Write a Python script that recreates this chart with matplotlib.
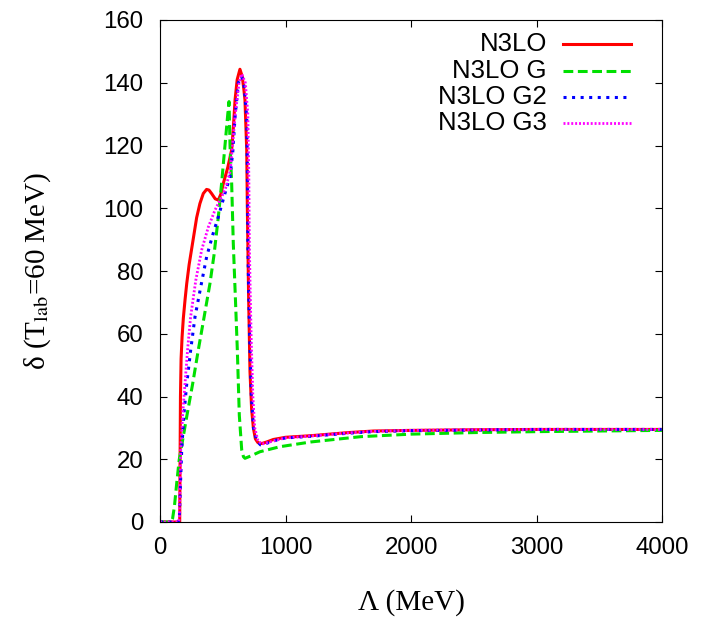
import matplotlib
matplotlib.use("Agg")
import matplotlib.pyplot as plt
from matplotlib.lines import Line2D

# values (Lambda in MeV, delta in degrees)
lam_n3lo = [0, 150, 157, 160, 163, 168, 176, 186, 200, 213, 232, 252, 272, 292, 318, 345, 371, 390,
            411, 440, 465, 485, 505, 540, 571, 585, 598, 615, 637, 655, 668, 677, 691, 696, 700, 706,
            717, 730, 744, 760, 780, 810, 850, 903, 1000, 1200, 1500, 1700, 2000, 2500, 3000, 4000]
del_n3lo = [0, 0, 0, 20, 40, 52, 59, 65, 71, 76, 82, 87, 92, 97, 101.5, 104.7, 106, 105.8,
            104.7, 103, 102.6, 104.5, 108, 113, 118.6, 126, 134.5, 141, 144.3, 142, 138, 134.5, 118.6, 100, 89, 72,
            48, 36, 30, 26.5, 25.3, 25, 25.5, 26.3, 27, 27.5, 28.5, 29, 29.2, 29.4, 29.5, 29.5]

lam_g = [0, 90, 100, 115, 133, 153, 180, 213, 260, 305, 350, 398, 430, 465, 491, 520, 540, 550,
         558, 571, 584, 602, 616, 632, 651, 665, 677, 720, 797, 956, 1200, 1600, 2000, 2500, 3000, 4000]
del_g = [0, 0, 1, 5, 12.3, 19.8, 26, 33.6, 44, 54.8, 65, 76, 85, 97.3, 108, 121, 130, 134,
         120, 108, 88.8, 70, 55, 34, 23, 20.8, 20.3, 21, 22.4, 24, 25.5, 27.2, 28, 28.5, 28.8, 29.2]

lam_g2 = [0, 146, 154, 163, 173, 190, 213, 245, 279, 325, 372, 420, 465, 518, 558, 580, 598, 624,
          651, 670, 691, 697, 700, 706, 715, 728, 745, 770, 800, 830, 900, 1000, 1200, 1500, 1700,
          2000, 2500, 3000, 4000]
del_g2 = [0, 0, 1, 12, 23, 34, 44, 55, 65.4, 75, 84.6, 91.5, 97.3, 104.8, 110, 118, 129, 140,
          142, 139, 129, 110, 89, 75, 58, 40, 30, 26, 24.6, 24.8, 25.8, 26.8, 27.3, 28.3, 28.8,
          29.1, 29.3, 29.5, 29.5]

lam_g3 = [0, 146, 154, 160, 165, 180, 199, 220, 244, 285, 332, 385, 438, 478, 520, 560, 600, 630,
          651, 680, 700, 708, 712, 718, 727, 740, 755, 780, 810, 900, 1000, 1200, 1500, 1700, 2000,
          2500, 3000, 4000]
del_g3 = [0, 0, 1, 12, 23, 34, 44, 55, 65.4, 77, 86.7, 94, 99.4, 102.6, 106, 112, 130, 140,
          142.8, 140, 130, 110, 89, 75, 58, 40, 30, 26, 24.8, 25.8, 26.8, 27.4, 28.4, 28.9, 29.2,
          29.4, 29.5, 29.5]

labels = ["N3LO", "N3LO G", "N3LO G2", "N3LO G3"]
x_ticks = [0, 1000, 2000, 3000, 4000]
y_ticks = [0, 20, 40, 60, 80, 100, 120, 140, 160]

plt.rcParams.update(
    {
        "font.family": ["Liberation Sans", "DejaVu Sans"],
        "mathtext.fontset": "stix",
        "xtick.direction": "in",
        "ytick.direction": "in",
        "xtick.top": True,
        "ytick.right": True,
        "xtick.major.size": 5,
        "ytick.major.size": 5,
        "xtick.major.pad": 11,
        "ytick.major.pad": 12,
    }
)

W, H = 705, 618
fig = plt.figure(figsize=(W / 100, H / 100), dpi=100)
ax = fig.add_axes([160 / W, 1 - 522 / H, 502 / W, 502 / H])

styles = [
    dict(color="#ff0000", lw=2.2),
    dict(color="#00e000", lw=2.2, dashes=(3.2, 1.5)),
    dict(color="#0000ff", lw=2.2, dashes=(1.0, 1.8)),
    dict(color="#ff00ff", lw=2.0, dashes=(0.7, 0.7)),
]
series = [(lam_n3lo, del_n3lo), (lam_g, del_g), (lam_g2, del_g2), (lam_g3, del_g3)]
for (lx, ly), st in zip(series, styles):
    ax.plot(lx, ly, **st)

ax.set_xlim(0, 4000)
ax.set_ylim(0, 160)
ax.set_xticks(x_ticks)
ax.set_yticks(y_ticks)
ax.tick_params(labelsize=17.3)

serif = ["Liberation Serif", "DejaVu Serif"]
ax.set_xlabel("Λ (MeV)", family=serif, fontsize=21)
ax.set_ylabel("δ (T$_{\\mathrm{lab}}$=60 MeV)", family=serif, fontsize=21)
ax.xaxis.set_label_coords(0.5, -0.133)
ax.yaxis.set_label_coords(-0.213, 0.5)

# gnuplot-style key: label right-aligned, sample line to its right
rows_px = [44, 71, 97, 123]
for lab, st, ry in zip(labels, styles, rows_px):
    yf = 1 - ry / H
    fig.text(547 / W, yf, lab, ha="right", va="center", fontsize=18.5)
    fig.add_artist(Line2D([563 / W, 631 / W], [yf, yf], transform=fig.transFigure, **st))

fig.savefig("out.png", dpi=100)
